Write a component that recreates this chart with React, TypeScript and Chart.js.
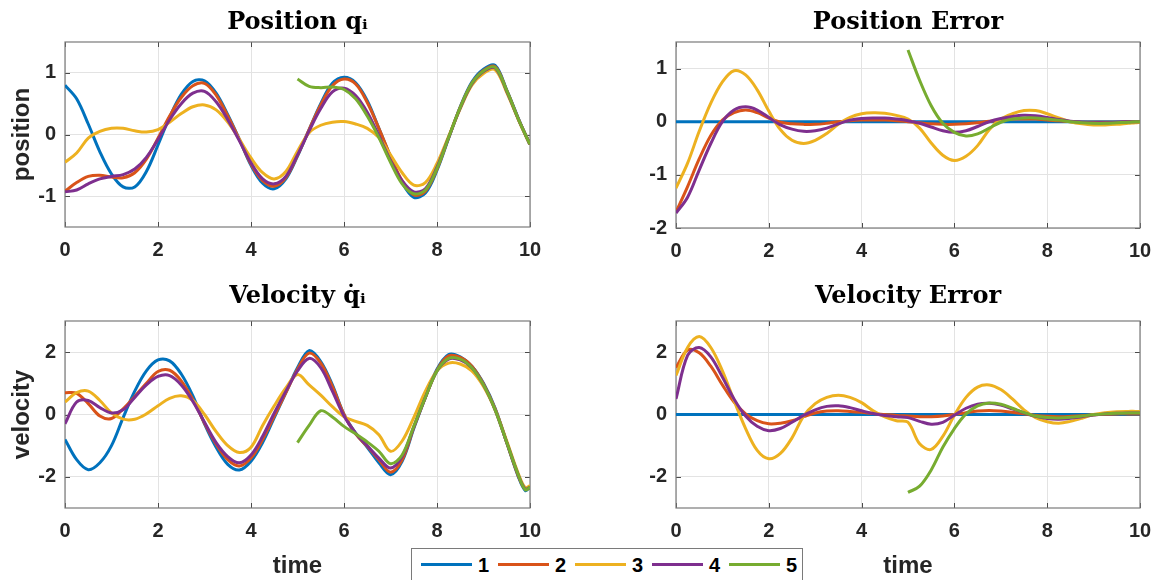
import React, { useEffect, useRef } from "react";
import { Chart, registerables } from "chart.js";

Chart.register(...registerables);

// ---------------- data ----------------
const time = [0, 0.25, 0.5, 0.75, 1, 1.25, 1.5, 1.75, 2, 2.25, 2.5, 2.75, 3, 3.25, 3.5, 3.75, 4, 4.25, 4.5, 4.75, 5, 5.25, 5.5, 5.75, 6, 6.25, 6.5, 6.75, 7, 7.25, 7.5, 7.75, 8, 8.25, 8.5, 8.75, 9, 9.25, 9.5, 9.75, 9.9, 10];

const seriesNames = ["1", "2", "3", "4", "5"];
const seriesColors = ["#0072BD", "#D95319", "#EDB120", "#7E2F8E", "#77AC30"];

const xTicks = [0, 2, 4, 6, 8, 10];
const positionTicks = [-1, 0, 1];
const positionErrorTicks = [-2, -1, 0, 1];
const velocityTicks = [-2, 0, 2];
const velocityErrorTicks = [-2, 0, 2];

const N = null;

// Position q_i
const position1 = [0.80, 0.58, 0.17, -0.28, -0.64, -0.85, -0.85, -0.60, -0.17, 0.28, 0.65, 0.86, 0.87, 0.67, 0.32, -0.08, -0.50, -0.79, -0.88, -0.72, -0.35, 0.08, 0.50, 0.83, 0.93, 0.84, 0.55, 0.10, -0.36, -0.78, -1.02, -0.95, -0.58, -0.06, 0.45, 0.85, 1.06, 1.12, 0.72, 0.26, 0.0, -0.16];
const position2 = [-0.92, -0.78, -0.68, -0.66, -0.69, -0.70, -0.62, -0.40, -0.06, 0.30, 0.60, 0.79, 0.83, 0.64, 0.30, -0.08, -0.48, -0.75, -0.84, -0.70, -0.34, 0.08, 0.48, 0.79, 0.90, 0.82, 0.52, 0.10, -0.35, -0.75, -0.98, -0.92, -0.56, -0.05, 0.44, 0.83, 1.04, 1.10, 0.71, 0.25, 0.0, -0.16];
const position3 = [-0.45, -0.30, -0.06, 0.05, 0.10, 0.10, 0.06, 0.04, 0.08, 0.20, 0.34, 0.45, 0.48, 0.40, 0.20, -0.08, -0.38, -0.62, -0.72, -0.60, -0.27, 0.03, 0.15, 0.20, 0.21, 0.17, 0.10, -0.05, -0.33, -0.62, -0.82, -0.78, -0.47, -0.03, 0.42, 0.80, 0.99, 1.05, 0.68, 0.24, -0.01, -0.16];
const position4 = [-0.93, -0.90, -0.80, -0.72, -0.68, -0.65, -0.56, -0.37, -0.08, 0.24, 0.50, 0.67, 0.70, 0.53, 0.24, -0.10, -0.46, -0.72, -0.80, -0.68, -0.33, 0.06, 0.42, 0.69, 0.75, 0.63, 0.36, -0.02, -0.42, -0.75, -0.93, -0.88, -0.53, -0.05, 0.43, 0.82, 1.02, 1.08, 0.70, 0.25, 0.0, -0.16];
const position5 = [N, N, N, N, N, N, N, N, N, N, N, N, N, N, N, N, N, N, N, N, 0.90, 0.78, 0.76, 0.77, 0.73, 0.58, 0.30, -0.05, -0.45, -0.80, -0.96, -0.90, -0.55, -0.05, 0.44, 0.83, 1.03, 1.09, 0.71, 0.25, 0.0, -0.16];

// Position error
const positionError1 = [0, 0, 0, 0, 0, 0, 0, 0, 0, 0, 0, 0, 0, 0, 0, 0, 0, 0, 0, 0, 0, 0, 0, 0, 0, 0, 0, 0, 0, 0, 0, 0, 0, 0, 0, 0, 0, 0, 0, 0, 0, 0];
const positionError2 = [-1.70, -1.22, -0.70, -0.26, 0.03, 0.17, 0.22, 0.17, 0.07, -0.01, -0.04, -0.05, -0.05, -0.03, 0.00, 0.02, 0.03, 0.03, 0.03, 0.02, 0.00, -0.02, -0.04, -0.05, -0.05, -0.04, -0.02, 0.01, 0.03, 0.05, 0.05, 0.05, 0.03, 0.02, 0.00, -0.01, -0.01, -0.01, -0.01, 0.00, 0.00, 0.00];
const positionError3 = [-1.25, -0.78, -0.18, 0.35, 0.75, 0.96, 0.88, 0.60, 0.20, -0.15, -0.35, -0.41, -0.35, -0.22, -0.05, 0.08, 0.15, 0.17, 0.16, 0.12, 0.05, -0.12, -0.40, -0.63, -0.73, -0.65, -0.45, -0.15, 0.05, 0.15, 0.21, 0.21, 0.15, 0.07, 0.00, -0.04, -0.06, -0.06, -0.05, -0.03, -0.02, -0.01];
const positionError4 = [-1.72, -1.42, -0.91, -0.41, 0.00, 0.22, 0.28, 0.22, 0.08, -0.06, -0.14, -0.18, -0.17, -0.12, -0.04, 0.03, 0.06, 0.07, 0.07, 0.05, 0.02, -0.03, -0.10, -0.17, -0.20, -0.17, -0.09, 0.00, 0.06, 0.10, 0.12, 0.11, 0.08, 0.04, 0.01, -0.01, -0.02, -0.02, -0.01, 0.00, 0.00, 0.00];
const positionError5 = [N, N, N, N, N, N, N, N, N, N, N, N, N, N, N, N, N, N, N, N, 1.35, 0.78, 0.30, -0.03, -0.20, -0.27, -0.23, -0.12, -0.01, 0.05, 0.07, 0.07, 0.05, 0.03, 0.00, -0.02, -0.03, -0.03, -0.02, -0.01, 0.00, 0.00];

// Velocity q_i dot
const velocity1 = [-0.80, -1.45, -1.77, -1.55, -1.00, -0.10, 0.75, 1.40, 1.75, 1.72, 1.30, 0.60, -0.30, -1.05, -1.60, -1.78, -1.50, -0.90, -0.10, 0.70, 1.50, 2.05, 1.70, 0.95, 0.00, -0.60, -1.05, -1.55, -1.93, -1.50, -0.45, 0.55, 1.45, 1.92, 1.85, 1.55, 1.00, 0.20, -0.90, -2.00, -2.44, -2.33];
const velocity2 = [0.70, 0.68, 0.35, -0.05, -0.13, 0.18, 0.58, 1.00, 1.38, 1.42, 1.08, 0.48, -0.28, -0.95, -1.45, -1.65, -1.40, -0.80, -0.05, 0.70, 1.45, 1.97, 1.65, 0.90, 0.00, -0.62, -1.02, -1.45, -1.85, -1.45, -0.42, 0.55, 1.42, 1.88, 1.83, 1.55, 0.98, 0.18, -0.90, -1.98, -2.40, -2.33];
const velocity3 = [0.40, 0.70, 0.75, 0.45, 0.05, -0.15, -0.15, 0.02, 0.28, 0.52, 0.60, 0.45, 0.00, -0.55, -1.00, -1.22, -1.05, -0.35, 0.28, 0.85, 1.28, 0.95, 0.62, 0.25, -0.07, -0.22, -0.35, -0.65, -1.18, -0.85, -0.10, 0.75, 1.40, 1.65, 1.62, 1.40, 0.90, 0.15, -0.85, -1.90, -2.35, -2.28];
const velocity4 = [-0.30, 0.40, 0.45, 0.22, 0.05, 0.15, 0.55, 0.95, 1.22, 1.25, 0.95, 0.42, -0.25, -0.90, -1.35, -1.55, -1.30, -0.70, 0.05, 0.75, 1.40, 1.80, 1.50, 0.75, -0.05, -0.60, -1.00, -1.40, -1.72, -1.35, -0.40, 0.55, 1.40, 1.78, 1.75, 1.50, 0.95, 0.15, -0.90, -1.95, -2.40, -2.33];
const velocity5 = [N, N, N, N, N, N, N, N, N, N, N, N, N, N, N, N, N, N, N, N, -0.90, -0.35, 0.12, -0.08, -0.38, -0.62, -0.88, -1.18, -1.58, -1.30, -0.38, 0.55, 1.40, 1.80, 1.78, 1.50, 0.95, 0.15, -0.90, -1.95, -2.42, -2.33];

// Velocity error
const velocityError1 = [0, 0, 0, 0, 0, 0, 0, 0, 0, 0, 0, 0, 0, 0, 0, 0, 0, 0, 0, 0, 0, 0, 0, 0, 0, 0, 0, 0, 0, 0, 0, 0, 0, 0, 0, 0, 0, 0, 0, 0, 0, 0];
const velocityError2 = [1.50, 2.07, 1.98, 1.55, 0.95, 0.40, 0.02, -0.20, -0.30, -0.28, -0.20, -0.07, 0.05, 0.11, 0.12, 0.10, 0.07, 0.03, 0.00, -0.03, -0.05, -0.07, -0.07, -0.05, 0.00, 0.06, 0.11, 0.13, 0.11, 0.07, 0.02, -0.03, -0.06, -0.07, -0.06, -0.04, -0.01, 0.01, 0.02, 0.02, 0.02, 0.02];
const velocityError3 = [1.25, 2.15, 2.50, 2.15, 1.40, 0.45, -0.45, -1.15, -1.42, -1.25, -0.75, -0.05, 0.35, 0.55, 0.62, 0.55, 0.38, 0.12, -0.08, -0.20, -0.25, -0.94, -1.12, -0.70, -0.02, 0.55, 0.88, 0.95, 0.80, 0.50, 0.15, -0.10, -0.23, -0.28, -0.22, -0.12, 0.00, 0.06, 0.09, 0.10, 0.10, 0.10];
const velocityError4 = [0.50, 1.90, 2.15, 1.85, 1.20, 0.50, -0.05, -0.38, -0.52, -0.45, -0.25, -0.03, 0.15, 0.26, 0.28, 0.22, 0.12, 0.03, -0.03, -0.07, -0.10, -0.22, -0.31, -0.25, -0.02, 0.20, 0.33, 0.36, 0.30, 0.18, 0.05, -0.06, -0.13, -0.15, -0.12, -0.07, -0.02, 0.02, 0.04, 0.05, 0.05, 0.05];
const velocityError5 = [N, N, N, N, N, N, N, N, N, N, N, N, N, N, N, N, N, N, N, N, -2.50, -2.30, -1.78, -1.05, -0.45, 0.02, 0.28, 0.37, 0.33, 0.20, 0.06, -0.05, -0.10, -0.11, -0.09, -0.05, -0.01, 0.02, 0.04, 0.05, 0.05, 0.05];

// ---------------- styling / layout ----------------
const SANS = "'Liberation Sans', Arial, Helvetica, sans-serif";
const SERIF = "'DejaVu Serif', 'Liberation Serif', serif";
const TICK_COLOR = "#262626";
const GRID_COLOR = "#e3e3e3";
const BOX_COLOR = "#7a7a7a";
const TITLE_SIZE = 24;
const TICK_SIZE = 20;
const LABEL_SIZE = 24;

type Rect = { left: number; top: number; width: number; height: number };
type Area = { left: number; top: number; right: number; bottom: number };
type Panel = {
  title: string;
  yTitle: string;
  xTitle: string;
  yMin: number;
  yMax: number;
  yTicks: number[];
  series: (number | null)[][];
  box: Rect;
  area: Area;
  titleY: number;
};

const panels: Panel[] = [
  {
    title: "Position q\u1D62",
    yTitle: "position",
    xTitle: "",
    yMin: -1.5,
    yMax: 1.5,
    yTicks: positionTicks,
    series: [position1, position2, position3, position4, position5],
    box: { left: 0, top: 0, width: 560, height: 272 },
    area: { left: 65, top: 42, right: 530, bottom: 227 },
    titleY: 22.5,
  },
  {
    title: "Position Error",
    yTitle: "",
    xTitle: "",
    yMin: -2,
    yMax: 1.5,
    yTicks: positionErrorTicks,
    series: [positionError1, positionError2, positionError3, positionError4, positionError5],
    box: { left: 590, top: 0, width: 573, height: 272 },
    area: { left: 676, top: 42, right: 1140, bottom: 228 },
    titleY: 22.5,
  },
  {
    title: "Velocity q\u0307\u1D62",
    yTitle: "velocity",
    xTitle: "time",
    yMin: -3,
    yMax: 3,
    yTicks: velocityTicks,
    series: [velocity1, velocity2, velocity3, velocity4, velocity5],
    box: { left: 0, top: 280, width: 560, height: 300 },
    area: { left: 65, top: 321, right: 530, bottom: 508 },
    titleY: 297,
  },
  {
    title: "Velocity Error",
    yTitle: "",
    xTitle: "time",
    yMin: -3,
    yMax: 3,
    yTicks: velocityErrorTicks,
    series: [velocityError1, velocityError2, velocityError3, velocityError4, velocityError5],
    box: { left: 590, top: 280, width: 573, height: 300 },
    area: { left: 676, top: 321, right: 1140, bottom: 508 },
    titleY: 297,
  },
];

const boxPlugin = {
  id: "matlabBox",
  beforeDatasetsDraw(chart: any) {
    const { ctx, chartArea } = chart;
    const { left, top, right, bottom } = chartArea;
    const xs = chart.scales.x;
    const ys = chart.scales.y;
    ctx.save();
    ctx.strokeStyle = "#4a4a4a";
    ctx.lineWidth = 1;
    ctx.beginPath();
    const tl = 5;
    for (const t of xs.ticks) {
      const px = Math.round(xs.getPixelForValue(t.value)) + 0.5;
      ctx.moveTo(px, bottom);
      ctx.lineTo(px, bottom - tl);
      ctx.moveTo(px, top);
      ctx.lineTo(px, top + tl);
    }
    for (const t of ys.ticks) {
      const py = Math.round(ys.getPixelForValue(t.value)) + 0.5;
      ctx.moveTo(left, py);
      ctx.lineTo(left + tl, py);
      ctx.moveTo(right, py);
      ctx.lineTo(right - tl, py);
    }
    ctx.stroke();
    ctx.strokeStyle = BOX_COLOR;
    ctx.lineWidth = 1.2;
    ctx.strokeRect(left, top, right - left, bottom - top);
    ctx.restore();
  },
};

function buildConfig(p: Panel): any {
  const canvasRight = p.box.left + p.box.width;
  const canvasBottom = p.box.top + p.box.height;
  const titleLH = TITLE_SIZE * 1.2;
  const padTop = p.titleY - p.box.top - titleLH / 2;
  const padBottom = p.area.top - p.box.top - padTop - titleLH;
  const labelLH = LABEL_SIZE * 1.2;

  return {
    type: "line",
    data: {
      datasets: p.series.map((arr, i) => ({
        label: seriesNames[i],
        data: time
          .map((t, k) => ({ x: t, y: arr[k] }))
          .filter((d) => d.y !== null && d.y !== undefined),
        borderColor: seriesColors[i],
        backgroundColor: seriesColors[i],
        borderWidth: 3,
        pointRadius: 0,
        tension: 0.35,
        fill: false,
        order: 4 - i,
      })),
    },
    options: {
      responsive: false,
      maintainAspectRatio: false,
      animation: false,
      events: [],
      layout: {
        padding: { left: 0, top: 0, right: canvasRight - p.area.right, bottom: 0 },
      },
      plugins: {
        legend: { display: false },
        tooltip: { enabled: false },
        title: {
          display: true,
          text: p.title,
          fullSize: false,
          color: "#000000",
          font: { family: SERIF, size: TITLE_SIZE, weight: "bold", lineHeight: 1.2 },
          padding: { top: padTop, bottom: padBottom },
        },
      },
      scales: {
        x: {
          type: "linear",
          min: 0,
          max: 10,
          afterBuildTicks: (s: any) => {
            s.ticks = xTicks.map((v) => ({ value: v }));
          },
          afterFit: (s: any) => {
            s.height = canvasBottom - p.area.bottom;
          },
          grid: { color: GRID_COLOR, lineWidth: 1, drawTicks: false },
          border: { display: false },
          ticks: {
            padding: 11,
            color: TICK_COLOR,
            maxRotation: 0,
            autoSkip: false,
            font: { family: SANS, size: TICK_SIZE, weight: "bold", lineHeight: 1.2 },
            callback: (v: any) => String(v),
          },
          title: {
            display: p.xTitle !== "",
            text: p.xTitle,
            color: TICK_COLOR,
            font: { family: SANS, size: LABEL_SIZE, weight: "bold", lineHeight: 1.2 },
            padding: { top: 0, bottom: 580 - 566 - labelLH / 2 },
          },
        },
        y: {
          type: "linear",
          min: p.yMin,
          max: p.yMax,
          afterBuildTicks: (s: any) => {
            s.ticks = p.yTicks.map((v) => ({ value: v }));
          },
          afterFit: (s: any) => {
            s.width = p.area.left - p.box.left;
          },
          grid: { color: GRID_COLOR, lineWidth: 1, drawTicks: false },
          border: { display: false },
          ticks: {
            padding: 9,
            color: TICK_COLOR,
            autoSkip: false,
            font: { family: SANS, size: TICK_SIZE, weight: "bold", lineHeight: 1.2 },
            callback: (v: any) => String(v),
          },
          title: {
            display: p.yTitle !== "",
            text: p.yTitle,
            color: TICK_COLOR,
            font: { family: SANS, size: LABEL_SIZE, weight: "bold", lineHeight: 1.2 },
            padding: { top: 22 - labelLH / 2, bottom: 0 },
          },
        },
      },
    },
    plugins: [boxPlugin],
  };
}

export default function App() {
  const refs = useRef<(HTMLCanvasElement | null)[]>([]);

  useEffect(() => {
    document.body.style.margin = "0";
    document.body.style.overflow = "hidden";
    const charts = panels.map((p, i) => {
      const c = refs.current[i] as HTMLCanvasElement;
      return new Chart(c, buildConfig(p));
    });
    return () => {
      charts.forEach((ch) => ch.destroy());
    };
  }, []);

  return (
    <div
      style={{
        position: "absolute",
        left: 0,
        top: 0,
        width: 1163,
        height: 580,
        overflow: "hidden",
        background: "#ffffff",
      }}
    >
      {panels.map((p, i) => (
        <canvas
          key={i}
          ref={(el) => {
            refs.current[i] = el;
          }}
          width={p.box.width}
          height={p.box.height}
          style={{
            position: "absolute",
            left: p.box.left,
            top: p.box.top,
            width: p.box.width,
            height: p.box.height,
          }}
        />
      ))}
      <div
        style={{
          position: "absolute",
          left: 411,
          top: 548,
          width: 392,
          height: 40,
          border: "1px solid " + BOX_COLOR,
          boxSizing: "border-box",
          background: "#ffffff",
          zIndex: 2,
        }}
      >
        {seriesNames.map((n, i) => (
          <div
            key={n}
            style={{
              position: "absolute",
              left: 9 + 77 * i,
              top: 0,
              height: 31,
              display: "flex",
              alignItems: "center",
            }}
          >
            <span
              style={{
                display: "inline-block",
                width: 51,
                height: 2.5,
                background: seriesColors[i],
              }}
            />
            <span
              style={{
                marginLeft: 6,
                font: "bold 20px 'Liberation Sans', Arial, sans-serif",
                color: "#000000",
                lineHeight: "20px",
              }}
            >
              {n}
            </span>
          </div>
        ))}
      </div>
    </div>
  );
}
